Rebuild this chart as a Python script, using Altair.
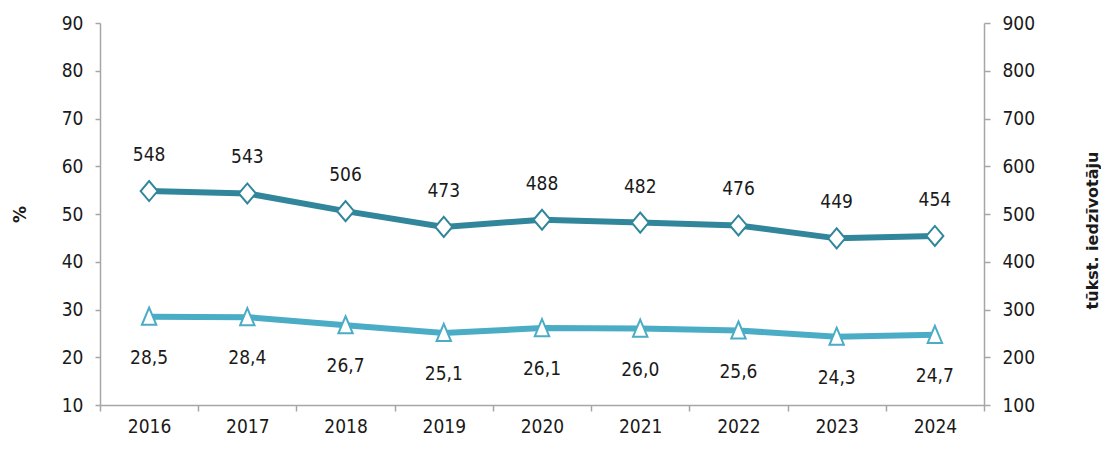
import altair as alt
import pandas as pd

years = ["2016", "2017", "2018", "2019", "2020", "2021", "2022", "2023", "2024"]
pct = [28.5, 28.4, 26.7, 25.1, 26.1, 26.0, 25.6, 24.3, 24.7]
people = [548, 543, 506, 473, 488, 482, 476, 449, 454]
pct_labels = ["28,5", "28,4", "26,7", "25,1", "26,1", "26,0", "25,6", "24,3", "24,7"]

df = pd.DataFrame({"year": years, "pct": pct, "people": people, "pct_lbl": pct_labels})

FONT = "DejaVu Sans Condensed"
DARK = "#31869b"
LIGHT = "#4bacc6"
AXIS_COLOR = "#a6a6a6"
TEXT = "#1a1a1a"

x = alt.X(
    "year:O",
    scale=alt.Scale(type="band", paddingInner=0, paddingOuter=0),
    axis=alt.Axis(
        title=None, labelAngle=0, tickBand="extent", domainColor=AXIS_COLOR,
        tickColor=AXIS_COLOR, tickSize=6, labelPadding=6, labelFont=FONT,
        labelFontSize=19, labelColor=TEXT, grid=False, domainWidth=1.5, tickWidth=1.5,
    ),
)

y_left = alt.Y(
    "pct:Q",
    scale=alt.Scale(domain=[10, 90], nice=False, zero=False),
    axis=alt.Axis(
        title="%", values=list(range(10, 91, 10)), grid=False, domainColor=AXIS_COLOR,
        tickColor=AXIS_COLOR, tickSize=5, labelPadding=12, labelFont=FONT,
        labelFontSize=19, labelColor=TEXT, titleFont="DejaVu Sans", titleFontSize=17,
        titleFontWeight="bold", titleColor=TEXT, titleX=-80, titleY=191,
        titleAngle=270, titleAlign="center", titleBaseline="middle",
        domainWidth=1.5, tickWidth=1.5,
    ),
)

y_right = alt.Y(
    "people:Q",
    scale=alt.Scale(domain=[100, 900], nice=False, zero=False),
    axis=alt.Axis(
        orient="right", title="tūkst. iedzīvotāju", values=list(range(100, 901, 100)),
        grid=False, domainColor=AXIS_COLOR, tickColor=AXIS_COLOR, tickSize=6,
        labelPadding=12, labelFont=FONT, labelFontSize=19, labelColor=TEXT,
        titleFont="DejaVu Sans", titleFontSize=16, titleFontWeight="bold",
        titleColor=TEXT, titleX=108, titleY=207, titleAngle=270,
        titleAlign="center", titleBaseline="middle", domainWidth=1.5, tickWidth=1.5,
    ),
)

base = alt.Chart(df)

light_line = base.mark_line(color=LIGHT, strokeWidth=6).encode(x=x, y=y_left)
light_pts = base.mark_point(
    shape="M0,-1L0.8,0.9L-0.8,0.9Z", size=324, filled=True, fill="white",
    stroke=LIGHT, strokeWidth=2, opacity=1,
).encode(x=x, y=y_left)
light_txt = base.mark_text(
    font=FONT, fontSize=19, color=TEXT, dy=41, baseline="middle"
).encode(x=x, y=y_left, text="pct_lbl:N")
left_layer = alt.layer(light_line, light_pts, light_txt)

dark_line = base.mark_line(color=DARK, strokeWidth=6).encode(x=x, y=y_right)
dark_pts = base.mark_point(
    shape="M-0.85,0L0,-1L0.85,0L0,1Z", size=400, filled=True, fill="white",
    stroke=DARK, strokeWidth=2, opacity=1,
).encode(x=x, y=y_right)
dark_txt = base.mark_text(
    font=FONT, fontSize=19, color=TEXT, dy=-36, baseline="middle"
).encode(x=x, y=y_right, text="people:Q")
right_layer = alt.layer(dark_line, dark_pts, dark_txt)

chart = (
    alt.layer(left_layer, right_layer)
    .resolve_scale(y="independent")
    .properties(
        width=884, height=382,
        autosize=alt.AutoSizeParams(type="none"),
        padding={"left": 92, "top": 15, "right": 117, "bottom": 37},
        background="white",
    )
    .configure_view(stroke=None)
)

chart.save("out.html", embed_options={"renderer": "svg", "actions": False})
